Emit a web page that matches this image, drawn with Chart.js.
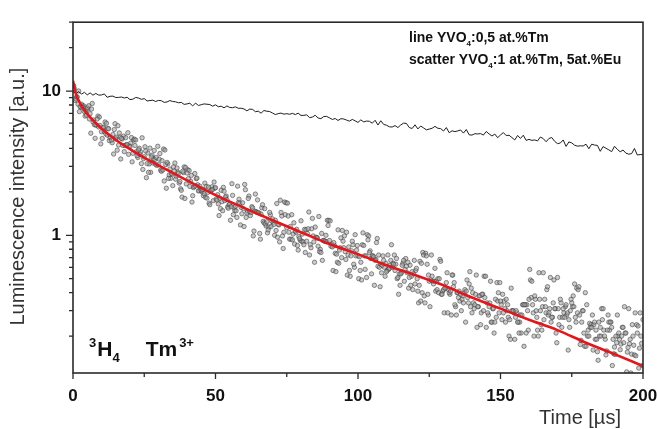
<html>
<head>
<meta charset="utf-8" />
<title>3H4 Tm3+ decay</title>
<script src="https://cdn.jsdelivr.net/npm/chart.js"></script>
<style>
  body { margin: 0; background: #fff; }
  #wrap { width: 657px; height: 429px; }
</style>
</head>
<body>
<div id="wrap"><canvas id="decay" width="657" height="429"></canvas></div>
<script>
// ---- data ----
// black line, YVO4:0,5 at.%Tm, one sample every 1 us from 0
const lineStep = 1;
const lineI = [
  9.94, 9.56, 9.9, 9.52, 9.8, 9.4, 9.71, 9.36, 9.62, 9.37,
  9.39, 9.55, 9.04, 9.2, 9.22, 9.02, 9.03, 9.09, 8.95, 9.05,
  8.72, 8.78, 9.03, 8.94, 8.76, 8.86, 8.53, 8.59, 8.64, 8.46,
  8.61, 8.57, 8.34, 8.4, 8.59, 8.46, 8.42, 8.29, 8.34, 8.08,
  8.14, 8.23, 7.88, 8.25, 7.94, 8.04, 8.14, 8.1, 8.06, 7.85,
  8.02, 7.78, 7.85, 7.65, 7.88, 7.69, 7.66, 7.77, 7.59, 7.6,
  7.51, 7.29, 7.49, 7.46, 7.19, 7.25, 7.02, 7.33, 7.24, 7.21,
  7.04, 6.87, 6.97, 7.03, 6.91, 6.97, 6.9, 7.0, 6.87, 7.02,
  6.77, 6.78, 6.84, 6.54, 6.6, 6.79, 6.5, 6.43, 6.66, 6.67,
  6.51, 6.35, 6.45, 6.25, 6.43, 6.4, 6.29, 6.18, 6.36, 6.21,
  6.06, 6.31, 6.11, 6.19, 6.17, 5.98, 6.27, 5.81, 6.22, 5.87,
  5.79, 5.65, 5.63, 5.76, 5.58, 5.82, 5.99, 5.96, 5.58, 5.5,
  5.83, 5.46, 5.72, 5.55, 5.38, 5.45, 5.52, 5.69, 5.52, 5.49,
  5.28, 5.58, 5.14, 5.3, 5.23, 5.29, 5.37, 5.11, 5.41, 4.97,
  4.95, 5.06, 5.04, 5.07, 4.95, 5.24, 5.04, 4.88, 5.03, 4.75,
  4.96, 5.15, 4.91, 4.94, 4.76, 4.58, 4.92, 4.69, 4.94, 4.55,
  4.62, 4.55, 4.58, 4.51, 4.8, 4.68, 4.45, 4.69, 4.76, 4.48,
  4.32, 4.36, 4.58, 4.13, 4.44, 4.37, 4.21, 4.15, 4.17, 4.16,
  4.28, 3.98, 4.28, 4.22, 4.2, 3.82, 4.12, 4.01, 3.91, 3.8,
  4.14, 3.94, 3.79, 3.9, 3.71, 3.65, 3.68, 4.0, 3.6, 3.63,
  3.62
];

// grey scatter, YVO4:1 at.%Tm, 5at.%Eu
// scan A: samples every 0.5 us from 0
const scatterStep = 0.5;
const scatterA = [
  10.8, 10.4, 8.8, 9.1, 10.0, 7.8, 8.1, 7.7, 7.2, 7.3,
  7.66, 7.9, 6.96, 7.5, 6.1, 5.84, 5.82, 6.4, 5.64, 5.77,
  5.22, 5.56, 5.25, 5.04, 4.95, 5.47, 4.75, 4.57, 5.0, 5.41,
  4.65, 3.89, 4.22, 4.79, 4.7, 4.19, 3.8, 4.75, 4.24, 3.64,
  4.11, 4.76, 3.7, 4.64, 4.58, 3.56, 3.91, 3.64, 3.14, 2.86,
  3.5, 3.84, 3.14, 2.73, 4.02, 3.49, 3.17, 3.87, 3.09, 3.05,
  3.09, 3.69, 2.78, 2.83, 2.38, 3.09, 3.2, 2.48, 2.88, 2.69,
  2.21, 2.78, 2.45, 2.93, 2.68, 2.36, 2.05, 2.78, 2.98, 2.95,
  2.7, 2.47, 2.18, 2.6, 1.88, 2.17, 2.2, 2.49, 2.03, 2.19,
  2.05, 2.08, 1.94, 1.83, 1.81, 2.16, 1.63, 2.05, 2.08, 2.34,
  2.14, 1.75, 1.65, 1.81, 2.05, 1.48, 2.02, 1.84, 1.77, 1.54,
  1.65, 1.58, 1.89, 1.56, 1.59, 1.33, 1.68, 1.67, 1.56, 1.68,
  1.15, 2.07, 1.43, 1.8, 1.46, 1.44, 1.55, 1.07, 1.93, 1.44,
  1.43, 1.03, 1.4, 1.63, 1.22, 1.2, 1.24, 1.09, 1.44, 1.15,
  1.3, 1.19, 1.27, 1.66, 1.19, 0.9, 1.44, 0.99, 1.05, 1.39,
  1.13, 1.36, 0.94, 0.94, 0.93, 1.22, 1.07, 1.1, 0.79, 0.95,
  1.26, 1.02, 0.86, 0.76, 0.91, 1.11, 0.73, 0.82, 1.31, 0.9,
  1.14, 0.96, 0.84, 0.77, 0.76, 0.67, 0.92, 0.91, 0.9, 1.17,
  0.92, 0.84, 0.83, 0.89, 0.75, 0.74, 1.09, 0.79, 0.96, 1.08,
  0.82, 0.77, 1.05, 0.73, 0.57, 0.72, 0.91, 0.63, 1.01, 0.79,
  0.72, 0.71, 0.65, 0.86, 0.85, 0.58, 0.51, 0.93, 0.76, 0.69,
  0.72, 0.71, 0.67, 0.89, 0.61, 0.6, 0.63, 0.62, 0.67, 0.52,
  0.56, 0.73, 0.59, 0.67, 0.6, 0.63, 0.57, 0.69, 0.51, 0.54,
  0.54, 0.62, 0.67, 0.58, 0.61, 0.65, 0.51, 0.45, 0.56, 0.54,
  0.46, 0.59, 0.41, 0.45, 0.35, 0.4, 0.73, 0.34, 0.72, 0.39,
  0.48, 0.49, 0.52, 0.46, 0.59, 0.48, 0.5, 0.5, 0.66, 0.39,
  0.42, 0.43, 0.47, 0.29, 0.4, 0.41, 0.53, 0.44, 0.33, 0.28,
  0.4, 0.41, 0.39, 0.36, 0.34, 0.42, 0.41, 0.37, 0.46, 0.32,
  0.29, 0.34, 0.33, 0.53, 0.32, 0.38, 0.24, 0.39, 0.3, 0.37,
  0.23, 0.29, 0.32, 0.48, 0.25, 0.31, 0.25, 0.27, 0.35, 0.29,
  0.35, 0.26, 0.29, 0.31, 0.36, 0.33, 0.2, 0.19, 0.3, 0.3,
  0.19, 0.3, 0.25, 0.21, 0.28, 0.28, 0.33, 0.33, 0.21, 0.3,
  0.36, 0.49, 0.48, 0.29, 0.38, 0.3, 0.22, 0.55, 0.3, 0.22,
  0.55, 0.36, 0.29, 0.44, 0.29, 0.51, 0.27, 0.34, 0.31, 0.21,
  0.51, 0.24, 0.36, 0.23, 0.31, 0.27, 0.33, 0.29, 0.26, 0.3,
  0.34, 0.38, 0.46, 0.25, 0.29, 0.44, 0.175, 0.25, 0.3, 0.17,
  0.17, 0.2, 0.2, 0.23, 0.23, 0.16, 0.25, 0.22, 0.156, 0.25,
  0.23, 0.31, 0.31, 0.2, 0.148, 0.22, 0.25, 0.25, 0.23, 0.19,
  0.168, 0.2, 0.28, 0.21, 0.161, 0.2, 0.23, 0.32, 0.21, 0.155,
  0.31, 0.19, 0.15, 0.2, 0.148, 0.146, 0.21, 0.12, 0.29, 0.178,
  0.26
];
// scan B: samples every 0.5 us from 0.25
const scatterBStart = 0.25;
const scatterB = [
  10.9, 8.6, 9.1, 8.1, 7.2, 7.7, 7.9, 7.9, 6.7, 6.8,
  7.5, 6.4, 5.1, 8.2, 6.3, 4.7, 5.8, 6.7, 6.6, 4.3,
  4.69, 5.62, 6.1, 5.98, 5.51, 4.53, 4.78, 4.38, 3.66, 5.94,
  4.79, 5.75, 5.12, 3.38, 4.65, 4.87, 4.19, 4.26, 5.14, 4.17,
  4.36, 3.23, 4.57, 4.19, 3.8, 3.46, 4.01, 3.78, 4.74, 3.4,
  4.11, 2.51, 3.72, 3.12, 2.73, 3.59, 3.39, 3.35, 3.46, 4.14,
  3.37, 2.83, 3.29, 3.96, 3.9, 2.12, 3.13, 2.62, 2.48, 2.65,
  2.98, 3.17, 2.56, 2.74, 2.3, 2.1, 1.84, 2.72, 1.8, 2.27,
  2.85, 2.81, 2.37, 1.7, 2.14, 2.68, 2.47, 2.24, 2.04, 2.1,
  2.0, 1.88, 2.3, 2.18, 1.98, 1.67, 2.02, 2.17, 1.74, 2.12,
  1.78, 1.91, 1.37, 1.53, 1.71, 2.15, 1.74, 1.87, 1.57, 1.63,
  1.27, 2.28, 1.39, 1.49, 1.48, 2.19, 1.78, 1.18, 1.41, 1.53,
  2.25, 1.33, 1.47, 1.87, 1.37, 1.58, 0.99, 1.47, 1.46, 1.76,
  1.43, 0.94, 1.55, 1.25, 1.53, 1.16, 1.04, 1.14, 1.39, 1.25,
  1.23, 1.0, 1.08, 0.97, 1.18, 1.75, 1.36, 0.81, 1.7, 1.68,
  1.67, 1.05, 1.15, 1.39, 1.02, 0.87, 1.05, 0.85, 0.98, 0.92,
  0.91, 0.9, 1.1, 1.09, 1.03, 1.45, 0.86, 1.11, 0.99, 0.65,
  0.97, 0.96, 1.35, 0.8, 1.03, 0.92, 0.91, 1.0, 1.27, 1.27,
  1.26, 0.87, 0.57, 0.85, 0.56, 0.65, 0.64, 0.82, 0.7, 0.91,
  0.99, 0.68, 0.53, 0.83, 0.52, 0.78, 0.86, 0.6, 0.72, 0.85,
  0.5, 0.57, 0.49, 1.04, 0.72, 0.72, 1.01, 0.99, 0.78, 0.54,
  0.72, 0.45, 0.68, 0.95, 0.73, 0.44, 0.55, 0.72, 0.6, 0.64,
  0.57, 0.58, 0.62, 0.86, 0.64, 0.73, 0.63, 0.5, 0.39, 0.45,
  0.55, 0.64, 0.48, 0.69, 0.55, 0.43, 0.62, 0.52, 0.42, 0.67,
  0.57, 0.5, 0.34, 0.66, 0.64, 0.76, 0.38, 0.75, 0.63, 0.53,
  0.32, 0.73, 0.48, 0.48, 0.41, 0.42, 0.4, 0.68, 0.39, 0.41,
  0.29, 0.43, 0.55, 0.42, 0.39, 0.28, 0.53, 0.47, 0.32, 0.4,
  0.37, 0.35, 0.3, 0.38, 0.4, 0.25, 0.49, 0.34, 0.56, 0.43,
  0.4, 0.31, 0.39, 0.23, 0.32, 0.38, 0.29, 0.39, 0.52, 0.52,
  0.34, 0.28, 0.34, 0.25, 0.31, 0.21, 0.36, 0.47, 0.4, 0.47,
  0.33, 0.39, 0.35, 0.25, 0.3, 0.27, 0.26, 0.43, 0.3, 0.29,
  0.27, 0.29, 0.25, 0.25, 0.21, 0.33, 0.17, 0.33, 0.33, 0.22,
  0.58, 0.37, 0.33, 0.2, 0.36, 0.27, 0.2, 0.36, 0.24, 0.32,
  0.26, 0.32, 0.42, 0.28, 0.31, 0.25, 0.27, 0.49, 0.31, 0.18,
  0.31, 0.27, 0.34, 0.27, 0.29, 0.32, 0.28, 0.16, 0.23, 0.36,
  0.32, 0.32, 0.27, 0.43, 0.42, 0.28, 0.187, 0.3, 0.21, 0.4,
  0.33, 0.22, 0.245, 0.24, 0.28, 0.24, 0.19, 0.19, 0.136, 0.2,
  0.2, 0.26, 0.22, 0.19, 0.158, 0.28, 0.22, 0.25, 0.125, 0.151,
  0.149, 0.18, 0.2, 0.19, 0.176, 0.23, 0.18, 0.21, 0.113, 0.167,
  0.177, 0.111, 0.24, 0.173, 0.29, 0.24, 0.235, 0.165, 0.2, 0.125
];

// red fit curve
const fitT = [0, 1, 2, 4, 6, 8, 10, 15, 20, 25, 30, 40, 50, 60, 70, 80, 90, 100, 110, 120, 130, 140, 150, 160, 170, 180, 190, 200];
const fitI = [11.8, 9.6, 8.6, 7.4, 6.6, 6.0, 5.5, 4.6, 3.95, 3.45, 3.05, 2.4, 1.9, 1.55, 1.27, 1.05, 0.87, 0.74, 0.62, 0.53, 0.45, 0.37, 0.31, 0.26, 0.22, 0.18, 0.15, 0.124];

// axes
const xMajor = [0, 50, 100, 150, 200];
const xMinor = [25, 75, 125, 175];
const yMajor = [1, 10];
const yMinor = [0.2, 0.3, 0.4, 0.5, 0.6, 0.7, 0.8, 0.9, 2, 3, 4, 5, 6, 7, 8, 9, 20, 30];
const yLabels = { 1: '1', 10: '10' };

const FONT = '"Liberation Sans", Arial, sans-serif';

const linePts = lineI.map((v, i) => ({ x: i * lineStep, y: v }));
const scatterPtsA = scatterA.map((v, i) => ({ x: i * scatterStep, y: v }));
const scatterPtsB = scatterB.map((v, i) => ({ x: scatterBStart + i * scatterStep, y: v }));
const fitPts = fitT.map((t, i) => ({ x: t, y: fitI[i] }));

// rich text: parts = [[text, 'n'|'sub'|'sup', extraGapBefore], ...]
function rich(ctx, x, y, size, parts) {
  let cx = x;
  parts.forEach(p => {
    const small = p[1] !== 'n';
    const fs = small ? Math.round(size * 0.6) : size;
    ctx.font = 'bold ' + fs + 'px ' + FONT;
    let dy = 0;
    if (p[1] === 'sub') dy = size * 0.3;
    if (p[1] === 'sup') dy = -size * 0.45;
    cx += p[2] || 0;
    ctx.fillText(p[0], cx, y + dy);
    cx += ctx.measureText(p[0]).width;
  });
}

const decor = {
  id: 'decor',
  afterDraw(chart) {
    const { ctx, chartArea: a, scales: { x, y } } = chart;
    ctx.save();
    ctx.strokeStyle = '#2a2a2a';
    ctx.lineWidth = 1.6;
    ctx.strokeRect(a.left, a.top, a.right - a.left, a.bottom - a.top);

    ctx.lineWidth = 1.3;
    ctx.beginPath();
    xMajor.forEach(v => { const px = x.getPixelForValue(v); ctx.moveTo(px, a.bottom); ctx.lineTo(px, a.bottom + 6); });
    xMinor.forEach(v => { const px = x.getPixelForValue(v); ctx.moveTo(px, a.bottom); ctx.lineTo(px, a.bottom + 4); });
    yMajor.forEach(v => { const py = y.getPixelForValue(v); ctx.moveTo(a.left, py); ctx.lineTo(a.left - 7, py); });
    yMinor.forEach(v => { const py = y.getPixelForValue(v); ctx.moveTo(a.left, py); ctx.lineTo(a.left - 4, py); });
    ctx.stroke();

    ctx.fillStyle = '#333';
    ctx.textBaseline = 'middle';
    ctx.textAlign = 'center';
    ctx.font = '20px ' + FONT;
    ctx.fillText('Time [\u00b5s]', 580, 418);

    ctx.save();
    ctx.translate(18, (a.top + a.bottom) / 2 - 1);
    ctx.rotate(-Math.PI / 2);
    ctx.font = '20px ' + FONT;
    ctx.fillText('Luminescence intensity [a.u.]', 0, 0);
    ctx.restore();

    ctx.fillStyle = '#111';
    ctx.textAlign = 'left';
    ctx.textBaseline = 'alphabetic';
    rich(ctx, 409, 42, 14, [['line YVO', 'n'], ['4', 'sub'], [':0,5 at.%Tm', 'n']]);
    rich(ctx, 409, 64, 14, [['scatter YVO', 'n'], ['4', 'sub'], [':1 at.%Tm, 5at.%Eu', 'n']]);
    rich(ctx, 89, 356, 21, [['3', 'sup'], ['H', 'n', 1], ['4', 'sub'], ['Tm', 'n', 26], ['3+', 'sup', 2]]);
    ctx.restore();
  }
};

const scatterStyle = {
  pointRadius: 2.2,
  pointBackgroundColor: 'rgba(160,160,160,0.55)',
  pointBorderColor: 'rgba(60,60,60,0.7)',
  pointBorderWidth: 0.8,
  order: 3
};

new Chart(document.getElementById('decay'), {
  type: 'scatter',
  data: {
    datasets: [
      {
        label: 'fit',
        type: 'line',
        data: fitPts,
        borderColor: '#e3161c',
        borderWidth: 2.6,
        pointRadius: 0,
        cubicInterpolationMode: 'monotone',
        order: 1
      },
      {
        label: 'line YVO4:0,5 at.%Tm',
        type: 'line',
        data: linePts,
        borderColor: '#1e1e1e',
        borderWidth: 1,
        pointRadius: 0,
        tension: 0,
        order: 2
      },
      Object.assign({ label: 'scatter YVO4:1 at.%Tm, 5at.%Eu', data: scatterPtsA }, scatterStyle),
      Object.assign({ label: 'scatter (B)', data: scatterPtsB }, scatterStyle)
    ]
  },
  options: {
    responsive: false,
    animation: false,
    layout: { padding: { top: 14, right: 14, left: 0, bottom: 0 } },
    plugins: { legend: { display: false }, tooltip: { enabled: false } },
    scales: {
      x: {
        type: 'linear',
        min: 0,
        max: 200,
        afterFit: s => { s.height = 56; s.paddingRight = 0; s.paddingLeft = 0; },
        afterBuildTicks: s => { s.ticks = xMajor.map(v => ({ value: v })); },
        grid: { display: false, drawTicks: false },
        border: { display: false },
        ticks: { color: '#111', padding: 13, font: { family: FONT, size: 17, weight: 'bold' } }
      },
      y: {
        type: 'logarithmic',
        min: 0.111,
        max: 30,
        afterFit: s => { s.width = 73; },
        afterBuildTicks: s => { s.ticks = yMajor.map(v => ({ value: v })); },
        grid: { display: false, drawTicks: false },
        border: { display: false },
        ticks: {
          color: '#111',
          padding: 12,
          font: { family: FONT, size: 17, weight: 'bold' },
          callback: v => yLabels[v] || ''
        }
      }
    }
  },
  plugins: [decor]
});
</script>
</body>
</html>
